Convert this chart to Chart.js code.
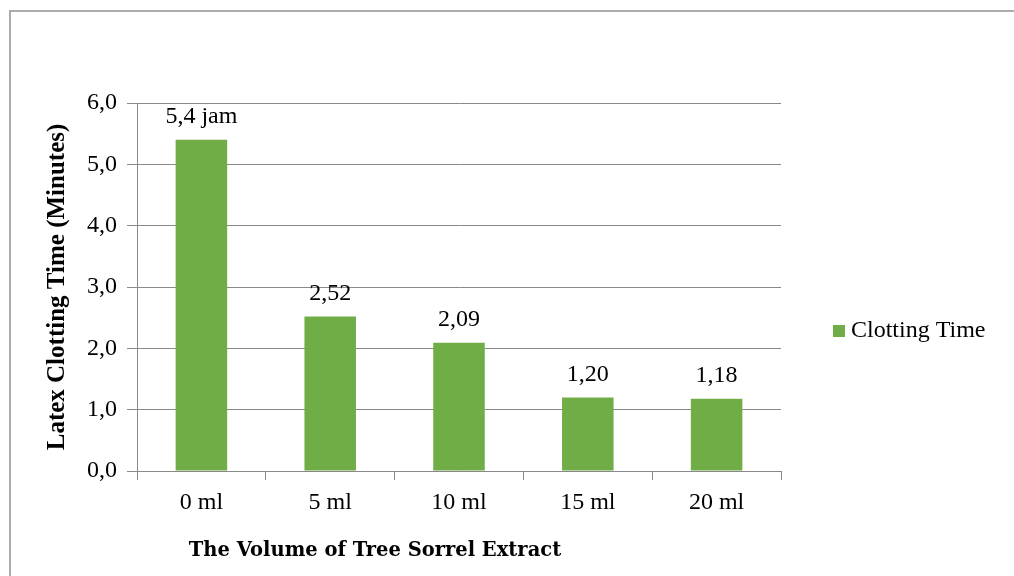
<!DOCTYPE html>
<html>
<head>
<meta charset="utf-8">
<script src="https://cdn.jsdelivr.net/npm/chart.js@4.4.0/dist/chart.umd.min.js"></script>
<style>
  html, body { margin: 0; padding: 0; background: #fff; overflow: hidden; }
  #wrap { position: relative; width: 1014px; height: 576px; }
  #frame {
    position: absolute; left: 9px; top: 10px; width: 1100px; height: 700px;
    border: 2px solid #acacac; box-sizing: border-box;
  }
  canvas { position: absolute; left: 0; top: 0; }
</style>
</head>
<body>
<div id="wrap">
  <div id="frame"></div>
  <canvas id="clottingChart" width="1014" height="576"></canvas>
</div>
<script>
// data
const volumes = ["0 ml", "5 ml", "10 ml", "15 ml", "20 ml"];
const clottingTime = [5.4, 2.52, 2.09, 1.20, 1.18];
const valueLabels = ["5,4 jam", "2,52", "2,09", "1,20", "1,18"];
const yMin = 0;
const yMax = 6;
const yStep = 1;

const seriesName = "Clotting Time";
const xTitle = "The Volume of Tree Sorrel Extract";
const yTitle = "Latex Clotting Time (Minutes)";

const barGreen = "#70ad47";
const gridGray = "#898989";
const serif = "'Liberation Serif', 'Times New Roman', serif";

// labels above each bar
const valueLabelPlugin = {
  id: "valueLabels",
  afterDatasetsDraw(chart) {
    const ctx = chart.ctx;
    const meta = chart.getDatasetMeta(0);
    ctx.save();
    ctx.font = "24px " + serif;
    ctx.fillStyle = "#000";
    ctx.textAlign = "center";
    ctx.textBaseline = "middle";
    meta.data.forEach((bar, i) => {
      ctx.fillText(valueLabels[i], bar.x, bar.y - 23);
    });
    ctx.restore();
  },
};

// legend on the right + x axis title (off centre like the original)
const sideTextPlugin = {
  id: "sideText",
  afterDraw(chart) {
    const ctx = chart.ctx;
    const area = chart.chartArea;
    const ds = chart.data.datasets[0];
    ctx.save();
    // legend
    const lx = area.right + 52;
    const ly = (area.top + area.bottom) / 2 + 44;
    ctx.fillStyle = ds.backgroundColor;
    ctx.fillRect(lx, ly - 6, 12, 12);
    ctx.fillStyle = "#000";
    ctx.font = "24px " + serif;
    ctx.textAlign = "left";
    ctx.textBaseline = "middle";
    ctx.fillText(ds.label, lx + 18, ly);
    // x title
    ctx.font = "bold 19.5px 'DejaVu Serif', serif";
    ctx.textAlign = "center";
    ctx.fillText(xTitle, area.left + 238, area.bottom + 80);
    ctx.restore();
  },
};

const ctx = document.getElementById("clottingChart").getContext("2d");

const clottingChart = new Chart(ctx, {
  type: "bar",
  data: {
    labels: volumes,
    datasets: [
      {
        label: seriesName,
        data: clottingTime,
        backgroundColor: barGreen,
        borderWidth: 0,
        categoryPercentage: 1.0,
        barPercentage: 0.4,
      },
    ],
  },
  options: {
    responsive: false,
    animation: false,
    layout: {
      padding: { top: 103, right: 233, bottom: 0, left: 0 },
    },
    plugins: {
      legend: { display: false },
      tooltip: { enabled: false },
    },
    scales: {
      x: {
        grid: {
          display: true,
          drawOnChartArea: false,
          drawTicks: true,
          tickLength: 9,
          color: gridGray,
        },
        border: { color: gridGray, width: 1 },
        ticks: {
          color: "#000",
          font: { family: serif, size: 24 },
          padding: 8,
          maxRotation: 0,
        },
        afterFit(scale) {
          scale.height = 105;
        },
      },
      y: {
        min: yMin,
        max: yMax,
        grid: {
          color: gridGray,
          tickLength: 10,
        },
        border: { color: gridGray, width: 1 },
        ticks: {
          stepSize: yStep,
          color: "#000",
          font: { family: serif, size: 24 },
          padding: 10,
          callback: (v) => v.toFixed(1).replace(".", ","),
        },
        title: {
          display: true,
          text: yTitle,
          color: "#000",
          font: { family: serif, size: 25, weight: "bold" },
          padding: { top: 43, bottom: 0 },
        },
        afterFit(scale) {
          scale.width = 137;
        },
      },
    },
  },
  plugins: [valueLabelPlugin, sideTextPlugin],
});
</script>
</body>
</html>
